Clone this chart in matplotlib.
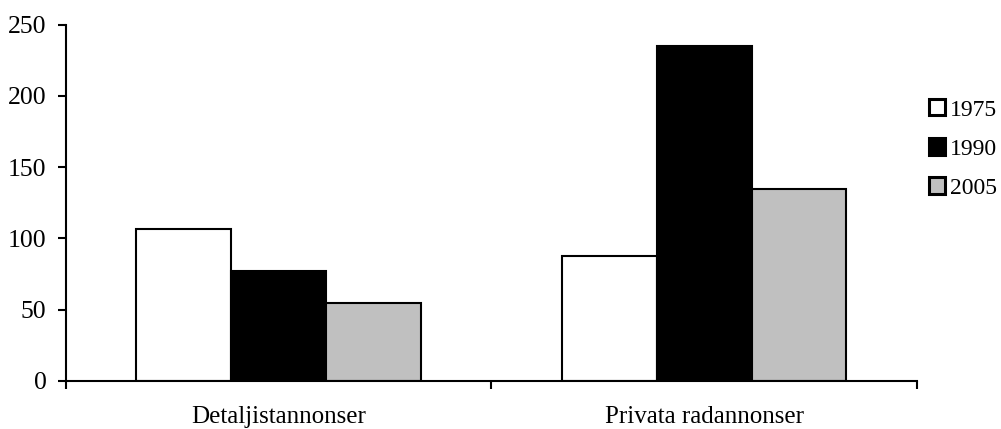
import matplotlib
matplotlib.use("Agg")
import matplotlib.pyplot as plt
import numpy as np

categories = ["Detaljistannonser", "Privata radannonser"]
years = ["1975", "1990", "2005"]
values_1975 = [107, 88]
values_1990 = [77, 235]
values_2005 = [55, 135]
y_ticks = [0, 50, 100, 150, 200, 250]

plt.rcParams["font.family"] = ["Liberation Serif", "DejaVu Serif"]

fig = plt.figure(figsize=(10.01, 4.29), dpi=100)
ax = fig.add_axes([0.0659, 0.1119, 0.850, 0.8305])

x = np.arange(len(categories))
width = 0.223
series = [values_1975, values_1990, values_2005]
colors = ["white", "black", "#c0c0c0"]
for i, (vals, col, lab) in enumerate(zip(series, colors, years)):
    ax.bar(x + (i - 1) * width, vals, width, color=col, edgecolor="black",
           linewidth=1.5, label=lab, zorder=2)

ax.set_xlim(-0.5, len(categories) - 0.5)
ax.set_ylim(0, 250)
ax.set_yticks(y_ticks)
ax.set_yticklabels([str(t) for t in y_ticks], fontsize=18.5)

# category boundaries as tick marks, names as minor ticks
ax.set_xticks(np.arange(-0.5, len(categories), 1.0))
ax.set_xticklabels([])
ax.set_xticks(x, minor=True)
ax.set_xticklabels(categories, minor=True, fontsize=18)
ax.tick_params(axis="x", which="major", direction="out", length=6, width=1.5)
ax.tick_params(axis="x", which="minor", length=0, pad=18)
ax.tick_params(axis="y", direction="out", length=6, width=1.5, pad=8)

for side in ("top", "right"):
    ax.spines[side].set_visible(False)
for side in ("left", "bottom"):
    ax.spines[side].set_linewidth(1.5)

leg = fig.legend(loc="center left", bbox_to_anchor=(929 / 1001, 1 - 149 / 429),
                 frameon=False, fontsize=17, handlelength=0.68, handleheight=0.68,
                 handletextpad=0.2, labelspacing=0.75, borderaxespad=0,
                 borderpad=0)
for h in leg.legend_handles:
    h.set_linewidth(2.2)

fig.savefig("out.png", dpi=100)
